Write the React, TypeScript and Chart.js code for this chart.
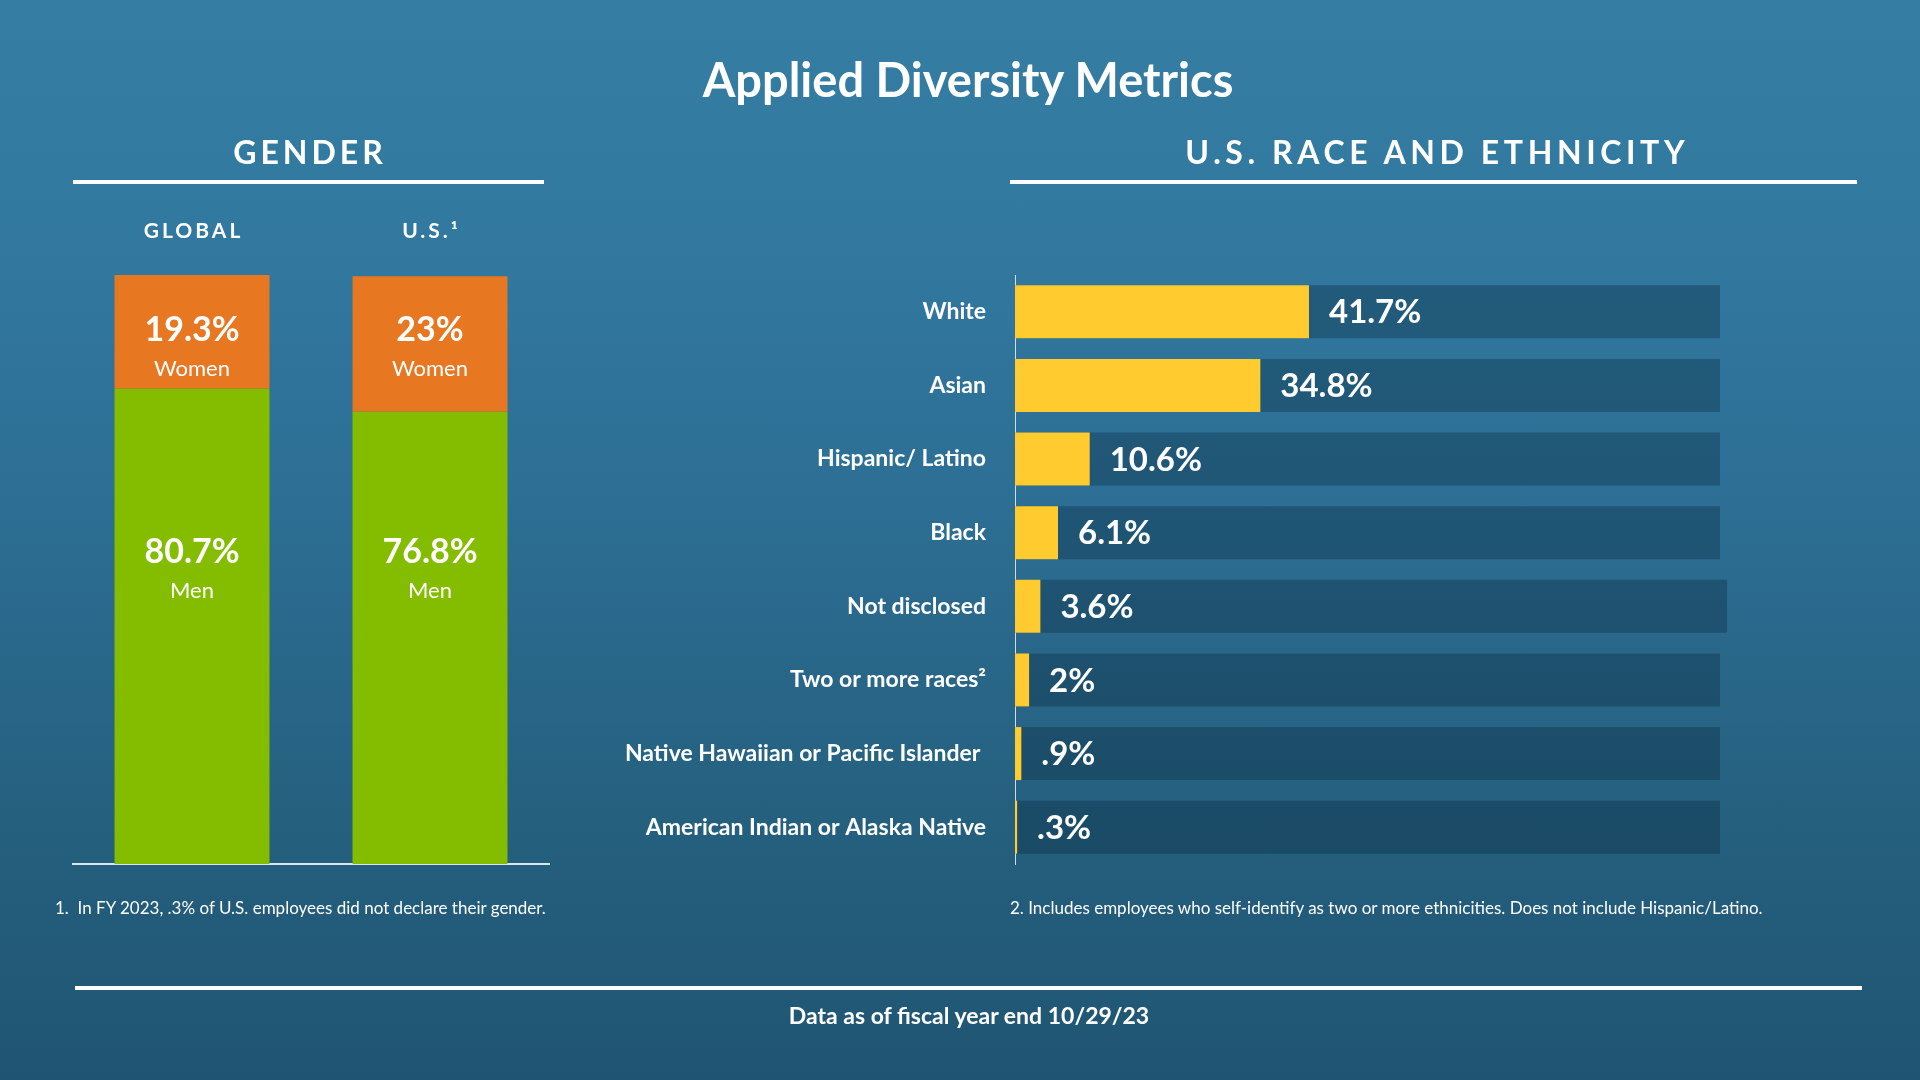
import React, { useEffect, useRef } from 'react';
import { Chart, registerables } from 'chart.js';

Chart.register(...registerables);

// ---------- data ----------
const genderCategories = ['GLOBAL', 'U.S.¹'];
const menValues = [80.7, 76.8];
const womenValues = [19.3, 23];
const genderSeriesLabels = ['Men', 'Women'];

const raceCategories = [
  'White',
  'Asian',
  'Hispanic/ Latino',
  'Black',
  'Not disclosed',
  'Two or more races²',
  'Native Hawaiian or Pacific Islander ',
  'American Indian or Alaska Native',
];
const raceValues = [41.7, 34.8, 10.6, 6.1, 3.6, 2, 0.9, 0.3];
const raceTrackValues = [100, 100, 100, 100, 101, 100, 100, 100];

const fmt = (v: number) => (v < 1 ? String(v).replace(/^0/, '') : String(v)) + '%';

const FONT = 'Lato, "Open Sans", sans-serif';
const W = 1920;
const H = 1080;

const genderLabelsPlugin = {
  id: 'genderLabels',
  afterDraw(chart: any) {
    const { ctx, chartArea } = chart;
    const xs = chart.scales.x;
    const ys = chart.scales.y;
    ctx.save();
    ctx.fillStyle = '#ffffff';
    ctx.textAlign = 'center';
    ctx.textBaseline = 'middle';
    genderCategories.forEach((c, i) => {
      const px = xs.getPixelForValue(i);
      (ctx as any).letterSpacing = '3px';
      ctx.font = `bold 21px ${FONT}`;
      ctx.fillText(c, px + 1.5, chartArea.top - 44);
      (ctx as any).letterSpacing = '0px';
      const topPx = ys.getPixelForValue(100);
      ctx.font = `bold 34px ${FONT}`;
      ctx.fillText(fmt(womenValues[i]), px, topPx + 55);
      ctx.font = `22px ${FONT}`;
      ctx.fillText(genderSeriesLabels[1], px, topPx + 94);
      const midPx = ys.getPixelForValue(50);
      ctx.font = `bold 34px ${FONT}`;
      ctx.fillText(fmt(menValues[i]), px, midPx - 17);
      ctx.font = `22px ${FONT}`;
      ctx.fillText(genderSeriesLabels[0], px, midPx + 21);
    });
    ctx.restore();
  },
};

const raceValueLabelsPlugin = {
  id: 'raceValueLabels',
  afterDatasetsDraw(chart: any) {
    const { ctx } = chart;
    const meta = chart.getDatasetMeta(0);
    ctx.save();
    ctx.fillStyle = '#ffffff';
    ctx.textAlign = 'left';
    ctx.textBaseline = 'middle';
    ctx.font = `bold 33px ${FONT}`;
    meta.data.forEach((el: any, i: number) => {
      ctx.fillText(fmt(raceValues[i]), el.x + 20, el.y + 1);
    });
    ctx.restore();
  },
};

const Txt: React.FC<{
  x: number;
  y: number;
  size: number;
  bold?: boolean;
  align?: 'center' | 'left';
  spacing?: number;
  children: React.ReactNode;
}> = ({ x, y, size, bold, align = 'center', spacing = 0, children }) => (
  <div
    style={{
      position: 'absolute',
      left: x,
      top: y,
      transform: align === 'center' ? 'translate(-50%, -50%)' : 'translateY(-50%)',
      fontFamily: FONT,
      fontSize: size,
      fontWeight: bold ? 700 : 400,
      lineHeight: 1,
      letterSpacing: spacing,
      color: '#ffffff',
      whiteSpace: 'pre',
      paddingLeft: align === 'center' ? spacing : 0,
    }}
  >
    {children}
  </div>
);

export default function App() {
  const genderRef = useRef<HTMLCanvasElement>(null);
  const raceRef = useRef<HTMLCanvasElement>(null);

  useEffect(() => {
    let cancelled = false;
    let charts: Chart[] = [];
    const build = () => {
      if (cancelled || !genderRef.current || !raceRef.current) return;
      const g = new Chart(genderRef.current, {
        type: 'bar',
        data: {
          labels: genderCategories,
          datasets: [
            {
              label: genderSeriesLabels[0],
              data: menValues,
              backgroundColor: '#84BD00',
              borderWidth: 0,
            },
            {
              label: genderSeriesLabels[1],
              data: womenValues,
              backgroundColor: '#E87722',
              borderWidth: 0,
            },
          ],
        },
        options: {
          responsive: false,
          animation: false,
          devicePixelRatio: 1,
          layout: { padding: { left: 73, right: W - 549, top: 275, bottom: H - 864 } },
          datasets: { bar: { categoryPercentage: 1, barPercentage: 0.651 } },
          plugins: { legend: { display: false }, tooltip: { enabled: false } },
          scales: {
            x: {
              stacked: true,
              display: true,
              grid: { display: false, drawTicks: false },
              ticks: { display: false },
              border: { display: true, color: 'rgba(225,238,246,0.95)', width: 2 },
              afterFit: (s: any) => {
                s.height = 0;
              },
            },
            y: { stacked: true, display: false, min: 0, max: 100 },
          },
        } as any,
        plugins: [genderLabelsPlugin],
      });

      const r = new Chart(raceRef.current, {
        type: 'bar',
        data: {
          labels: raceCategories,
          datasets: [
            {
              label: 'Share',
              data: raceValues,
              backgroundColor: '#FFCB2F',
              borderWidth: 0,
              grouped: false,
              order: 0,
            },
            {
              label: 'Track',
              data: raceTrackValues,
              backgroundColor: 'rgba(10,40,60,0.35)',
              borderWidth: 0,
              grouped: false,
              order: 1,
              clip: false,
            },
          ] as any,
        },
        options: {
          indexAxis: 'y',
          responsive: false,
          animation: false,
          devicePixelRatio: 1,
          layout: { padding: { left: 615, right: W - 1720, top: 275, bottom: H - 864 } },
          datasets: { bar: { categoryPercentage: 1, barPercentage: 0.72 } },
          plugins: { legend: { display: false }, tooltip: { enabled: false } },
          scales: {
            x: { display: false, min: 0, max: 100 },
            y: {
              display: true,
              grid: { display: false, drawTicks: false },
              border: { display: true, color: 'rgba(235,242,248,0.85)', width: 1 },
              ticks: {
                color: '#ffffff',
                font: { family: FONT, size: 23, weight: 'bold' },
                padding: 29,
                autoSkip: false,
              },
              afterFit: (s: any) => {
                s.width = 400;
              },
            },
          },
        } as any,
        plugins: [raceValueLabelsPlugin],
      });
      charts = [g, r];
    };
    const fontsReady = (document as any).fonts
      ? Promise.all([
          (document as any).fonts.load(`bold 22px Lato`),
          (document as any).fonts.load(`22px Lato`),
        ]).catch(() => null)
      : Promise.resolve();
    fontsReady.then(build);
    return () => {
      cancelled = true;
      charts.forEach((c) => c.destroy());
      charts = [];
    };
  }, []);

  return (
    <div
      style={{
        position: 'fixed',
        left: 0,
        top: 0,
        width: W,
        height: H,
        overflow: 'hidden',
        background:
          'linear-gradient(180deg, #357DA3 0%, #3279A0 20%, #2D6F95 45%, #25607F 75%, #1F5572 100%)',
      }}
    >
      <canvas
        ref={genderRef}
        width={W}
        height={H}
        style={{ position: 'absolute', left: 0, top: 0, width: W, height: H }}
      />
      <canvas
        ref={raceRef}
        width={W}
        height={H}
        style={{ position: 'absolute', left: 0, top: 0, width: W, height: H }}
      />

      <Txt x={968} y={79} size={47} bold>
        Applied Diversity Metrics
      </Txt>
      <Txt x={308} y={152} size={32} bold spacing={4}>
        GENDER
      </Txt>
      <Txt x={1435} y={152} size={32} bold spacing={4.6}>
        U.S. RACE AND ETHNICITY
      </Txt>
      <div style={{ position: 'absolute', left: 73, top: 180, width: 471, height: 4, background: '#ffffff' }} />
      <div style={{ position: 'absolute', left: 1010, top: 180, width: 847, height: 4, background: '#ffffff' }} />

      <Txt x={55} y={907} size={17} align="left">
        {'1.  In FY 2023, .3% of U.S. employees did not declare their gender.'}
      </Txt>
      <Txt x={1010} y={907} size={17} align="left">
        2. Includes employees who self-identify as two or more ethnicities. Does not include Hispanic/Latino.
      </Txt>

      <div style={{ position: 'absolute', left: 75, top: 986, width: 1787, height: 4, background: '#ffffff' }} />
      <Txt x={969} y={1015} size={23} bold>
        Data as of fiscal year end 10/29/23
      </Txt>
    </div>
  );
}
